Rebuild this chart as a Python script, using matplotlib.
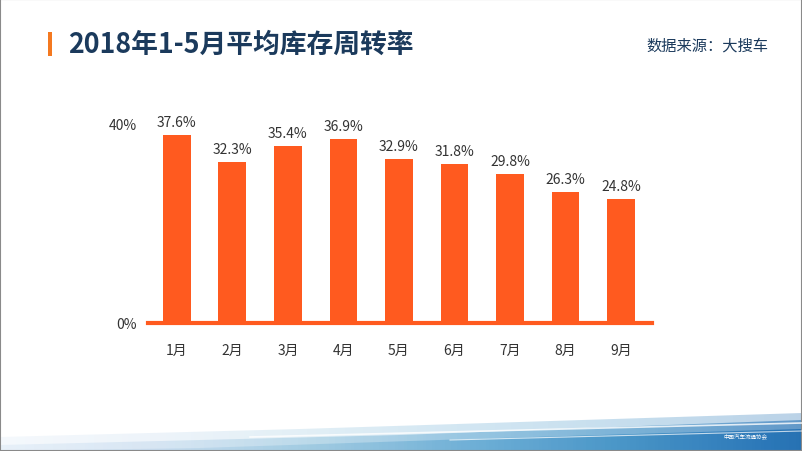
import numpy as np
import matplotlib.pyplot as plt
from matplotlib.patches import Polygon, Rectangle

plt.rcParams['font.family'] = ['Noto Sans CJK SC', 'DejaVu Sans']

months = ['1月', '2月', '3月', '4月', '5月', '6月', '7月', '8月', '9月']
turnover = [37.6, 32.3, 35.4, 36.9, 32.9, 31.8, 29.8, 26.3, 24.8]
y_ticks = [0, 40]

bar_color = '#FF5A1F'
navy = '#1B3A5C'
text_gray = '#333333'

fig = plt.figure(figsize=(8.02, 4.52), dpi=100)

# blue wave decoration at the bottom
deco = fig.add_axes([0, 0, 1, 1], zorder=0)
deco.set_xlim(0, 802)
deco.set_ylim(452, 0)
deco.axis('off')
grad = np.linspace(0, 1, 256).reshape(1, -1)
waves = [
    ([(0, 452), (0, 438), (300, 430), (802, 414), (802, 452)], 0.3),
    ([(0, 452), (0, 446), (400, 436), (802, 421), (802, 452)], 0.55),
    ([(0, 452), (200, 449), (500, 439), (802, 430), (802, 452)], 0.85),
]
for pts, a in waves:
    im = deco.imshow(grad, cmap='Blues', extent=[0, 802, 452, 400], aspect='auto',
                     vmin=-0.2, vmax=1.35, alpha=a)
    poly = Polygon(pts, closed=True, transform=deco.transData, facecolor='none', edgecolor='none')
    deco.add_patch(poly)
    im.set_clip_path(poly)
# thin white streaks in the wave
deco.plot([250, 802], [438, 424], color='white', lw=1.2, alpha=0.8)
deco.plot([450, 802], [441, 432], color='white', lw=0.8, alpha=0.7)
deco.text(745, 437, '中国汽车流通协会', fontsize=4, color='white', ha='center', va='center')
deco.add_patch(Rectangle((0, 0), 802, 452, fill=False, edgecolor='#8a8a8a', linewidth=1.5))

# title bar
deco.add_patch(Rectangle((48, 33), 4, 24, facecolor='#F47920', edgecolor='none'))
fig.text(68 / 802, 1 - 45 / 452, '2018年1-5月平均库存周转率', fontsize=19.3, fontweight='bold',
         color=navy, va='center', ha='left')
fig.text(768 / 802, 1 - 46 / 452, '数据来源：大搜车', fontsize=11, color=navy,
         va='center', ha='right')

ax = fig.add_axes([148 / 802, (452 - 324) / 452, 504 / 802, 200 / 452], zorder=1)
ax.patch.set_alpha(0)
x = np.arange(len(months))
bars = ax.bar(x, turnover, width=0.5, color=bar_color)
for xi, v in zip(x, turnover):
    ax.annotate(f'{v}%', (xi, v), xytext=(0, 4), textcoords='offset points',
                ha='center', va='bottom', fontsize=10, color=text_gray)

ax.set_xlim(-0.52, 8.56)
ax.set_ylim(0, 40)
ax.set_yticks(y_ticks)
ax.set_yticklabels([f'{t}%' for t in y_ticks])
ax.set_xticks(x)
ax.set_xticklabels(months)
ax.tick_params(axis='both', length=0, labelsize=10, labelcolor=text_gray)
ax.tick_params(axis='x', pad=14)
ax.tick_params(axis='y', pad=8)
for s in ['top', 'right', 'left']:
    ax.spines[s].set_visible(False)
ax.spines['bottom'].set_color(bar_color)
ax.spines['bottom'].set_linewidth(3)

fig.savefig('out.png', dpi=100)
